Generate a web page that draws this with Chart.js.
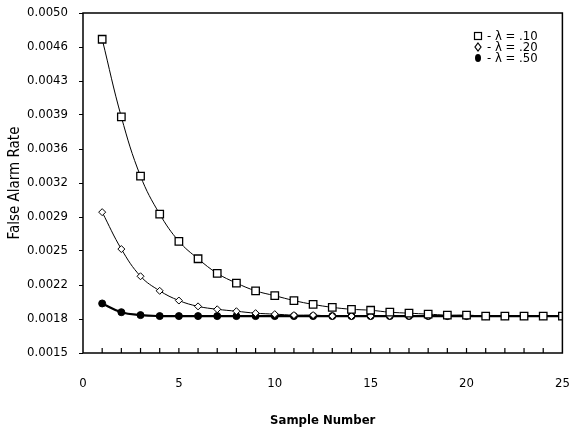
<!DOCTYPE html>
<html>
<head>
<meta charset="utf-8">
<script src="https://cdn.jsdelivr.net/npm/chart.js@4/dist/chart.umd.min.js"></script>
<style>
  html, body { margin: 0; padding: 0; background: #fff; }
  #wrap { width: 569px; height: 432px; }
</style>
</head>
<body>
<div id="wrap"><canvas id="alarmChart"></canvas></div>
<script>
// sample numbers 1..25
const samples = [1,2,3,4,5,6,7,8,9,10,11,12,13,14,15,16,17,18,19,20,21,22,23,24,25];

// false alarm rate for each smoothing constant
const lambda10 = [0.00473,0.00393,0.00332,0.00293,0.00265,0.00247,0.00232,0.00222,0.00214,0.00209,
                  0.00204,0.00200,0.00197,0.00195,0.00194,0.00192,0.00191,0.00190,0.00189,0.00189,
                  0.00188,0.00188,0.00188,0.00188,0.00188];
const lambda20 = [0.00295,0.00257,0.00229,0.00214,0.00204,0.00198,0.00195,0.00193,0.00191,0.00190,
                  0.00189,0.00189,0.00188,0.00188,0.00188,0.00188,0.00188,0.00188,0.00188,0.00188,
                  0.00188,0.00188,0.00188,0.00188,0.00188];
const lambda50 = [0.00201,0.00192,0.00189,0.00188,0.00188,0.00188,0.00188,0.00188,0.00188,0.00188,
                  0.00188,0.00188,0.00188,0.00188,0.00188,0.00188,0.00188,0.00188,0.00188,0.00188,
                  0.00188,0.00188,0.00188,0.00188,0.00188];

const yTickLabels = ["0.0015","0.0018","0.0022","0.0025","0.0029","0.0032","0.0036","0.0039","0.0043","0.0046","0.0050"];
const xTickLabels = ["0","5","10","15","20","25"];
const legendLabels = ["- \u03bb = .10", "- \u03bb = .20", "- \u03bb = .50"];

const FONT = "'Liberation Sans Narrow', 'DejaVu Sans Condensed', sans-serif";

function toPoints(arr) {
    return arr.map((v, i) => ({ x: samples[i], y: v }));
}

// box around the plot, inward x ticks, and the little legend in the corner
const frame = {
    id: "frame",
    afterDraw(chart) {
        const { ctx, chartArea: a, scales } = chart;
        ctx.save();
        ctx.strokeStyle = "#000";
        ctx.lineWidth = 1.5;
        ctx.strokeRect(a.left, a.top, a.right - a.left, a.bottom - a.top);

        // inward tick marks along the bottom, one per sample
        ctx.lineWidth = 1.2;
        for (let i = 1; i < 25; i++) {
            const px = scales.x.getPixelForValue(i);
            ctx.beginPath();
            ctx.moveTo(px, a.bottom);
            ctx.lineTo(px, a.bottom - 5);
            ctx.stroke();
        }

        // legend
        const lx = 478, ly = [36, 47, 58];
        ctx.font = "13px " + FONT;
        ctx.fillStyle = "#000";
        ctx.textBaseline = "middle";
        chart.data.datasets.forEach((ds, i) => {
            const y = ly[i];
            ctx.lineWidth = 1.2;
            if (i === 0) {
                ctx.strokeRect(lx - 3.5, y - 3.5, 7, 7);
            } else if (i === 1) {
                ctx.beginPath();
                ctx.moveTo(lx, y - 4); ctx.lineTo(lx + 3, y); ctx.lineTo(lx, y + 4); ctx.lineTo(lx - 3, y);
                ctx.closePath();
                ctx.stroke();
            } else {
                ctx.beginPath();
                ctx.ellipse(lx, y, 3, 4, 0, 0, Math.PI * 2);
                ctx.fill();
            }
            ctx.fillText(legendLabels[i], lx + 9, y + 1);
        });
        ctx.restore();
    }
};

const ctx = document.getElementById("alarmChart").getContext("2d");
new Chart(ctx, {
    type: "line",
    data: {
        datasets: [
            { label: legendLabels[0], data: toPoints(lambda10), borderColor: "#000", borderWidth: 1,
              pointStyle: "rect", pointRadius: 5.3, pointBackgroundColor: "#fff", pointBorderColor: "#000",
              pointBorderWidth: 1.3, tension: 0.4, fill: false },
            { label: legendLabels[1], data: toPoints(lambda20), borderColor: "#000", borderWidth: 1,
              pointStyle: "rectRot", pointRadius: 3.5, pointBackgroundColor: "#fff", pointBorderColor: "#000",
              pointBorderWidth: 1, tension: 0.4, fill: false },
            { label: legendLabels[2], data: toPoints(lambda50), borderColor: "#000", borderWidth: 2.2,
              pointStyle: "circle", pointRadius: 3.5, pointBackgroundColor: "#000", pointBorderColor: "#000",
              pointBorderWidth: 1, tension: 0.4, fill: false },
        ],
    },
    options: {
        responsive: true,
        maintainAspectRatio: false,
        animation: false,
        layout: { padding: { left: 0, right: 3, top: 13, bottom: 0 } },
        plugins: { legend: { display: false }, tooltip: { enabled: false } },
        scales: {
            x: {
                type: "linear", min: 0, max: 25,
                grid: { display: false },
                border: { display: false },
                ticks: {
                    stepSize: 5, autoSkip: false, maxRotation: 0, padding: 15,
                    color: "#000", font: { family: FONT, size: 13 },
                    callback: (v) => xTickLabels[v / 5],
                },
                title: { display: true, text: "Sample Number", color: "#000",
                         font: { family: "'DejaVu Sans Condensed', sans-serif", size: 13, weight: "bold" },
                         padding: { top: 14 } },
                afterFit: (s) => { s.height = 79; s.paddingLeft = 0; s.paddingRight = 0; },
            },
            y: {
                min: 0.0015, max: 0.0050,
                grid: { drawOnChartArea: false, tickLength: 4, color: "#000", lineWidth: 1 },
                border: { display: false },
                ticks: {
                    stepSize: 0.00035, autoSkip: false, padding: 11,
                    color: "#000", font: { family: FONT, size: 13 },
                    callback: (v, i) => yTickLabels[i],
                },
                title: { display: true, text: "False Alarm Rate", color: "#000",
                         font: { family: FONT, size: 15 }, padding: { top: 6, bottom: 0 } },
                afterFit: (s) => { s.width = 83; s.paddingTop = 0; s.paddingBottom = 0; },
            },
        },
    },
    plugins: [frame],
});
</script>
</body>
</html>
